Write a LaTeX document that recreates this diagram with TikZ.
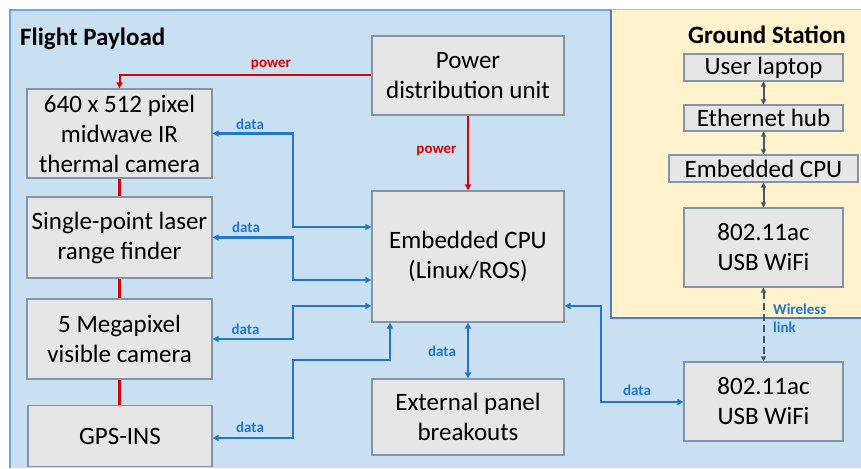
\documentclass[tikz,border=0pt]{standalone}
\usepackage{fontspec}
\setmainfont{Carlito}
\usetikzlibrary{arrows.meta}
\definecolor{bluebg}{HTML}{C9DFF2}
\definecolor{blueedge}{HTML}{6FA3E3}
\definecolor{yelbg}{HTML}{FFF2CC}
\definecolor{yeledge}{HTML}{4A7CCB}
\definecolor{boxfill}{HTML}{E6E6E6}
\definecolor{boxedge}{HTML}{8494A8}
\definecolor{datablue}{HTML}{1F77D0}
\definecolor{powred}{HTML}{E00000}
\definecolor{gsgray}{HTML}{44546A}
\tikzset{
  box/.style={draw=boxedge, line width=1.2pt, fill=boxfill, inner sep=0pt, align=center,
    font=\fontsize{25}{30}\selectfont},
  title/.style={font=\fontsize{25}{30}\selectfont\bfseries, inner sep=0pt},
  lbl/.style={font=\fontsize{15}{18}\selectfont\bfseries, inner sep=0pt},
  pw/.style={draw=powred, line width=2pt, -{Triangle[length=6pt,width=6pt]}},
  redlink/.style={draw=powred, line width=3pt},
  dt/.style={draw=datablue, line width=2.2pt, {Triangle[length=6pt,width=6pt]}-{Triangle[length=6pt,width=6pt]}},
  gs/.style={draw=gsgray, line width=2pt, {Triangle[length=5pt,width=5pt]}-{Triangle[length=5pt,width=5pt]}},
}
\begin{document}
\begin{tikzpicture}[x=1pt,y=-1pt]
\useasboundingbox (0,0) rectangle (861,468);
\fill[white] (0,0) rectangle (861,468);
% panels
\fill[bluebg] (10,10) rectangle (861,468);
\draw[blueedge, line width=1.5pt] (10,468) -- (10,10) -- (861,10);
\fill[yelbg] (611,10) rectangle (861,318);
\draw[black!25, line width=1pt] (611,10) -- (861,10);
\draw[yeledge, line width=1.5pt] (611,10) -- (611,318) -- (861,318);
\node[title, anchor=west] (fp) at (20,39) {Flight Payload};
\node[title] (gst) at (767,35) {Ground Station};
% flight boxes
\node[box, minimum width=185pt, minimum height=89pt] (th) at (119.5,133.5) {640 x 512 pixel\\midwave IR\\thermal camera};
\node[box, minimum width=185pt, minimum height=81pt] (lrf) at (119.5,237.5) {Single-point laser\\range finder};
\node[box, minimum width=185pt, minimum height=80pt] (mp) at (119.5,339) {5 Megapixel\\visible camera};
\node[box, minimum width=184pt, minimum height=61pt] (gps) at (120,436) {GPS-INS};
\node[box, minimum width=192pt, minimum height=79pt] (pdu) at (468,75.5) {Power\\distribution unit};
\node[box, minimum width=192pt, minimum height=131pt] (cpu) at (468,256.5) {Embedded CPU\\(Linux/ROS)};
\node[box, minimum width=192pt, minimum height=76pt] (ext) at (468,417) {External panel\\breakouts};
\node[box, minimum width=159pt, minimum height=79pt] (fwifi) at (763.5,401.5) {802.11ac\\USB WiFi};
% ground boxes
\node[box, minimum width=159pt, minimum height=27pt] (gl) at (763.5,67.5) {User laptop};
\node[box, minimum width=159pt, minimum height=26pt] (eh) at (763.5,118) {Ethernet hub};
\node[box, minimum width=189pt, minimum height=27pt] (gcpu) at (763.5,168.5) {Embedded CPU};
\node[box, minimum width=159pt, minimum height=79pt] (gwifi) at (763.5,247.5) {802.11ac\\USB WiFi};
% power
\draw[pw] (pdu.west) -| (th.north);
\draw[pw] (pdu.south) -- (cpu.north);
\draw[redlink] (th.south) -- (lrf.north);
\draw[redlink] (lrf.south) -- (mp.north);
\draw[redlink] (mp.south) -- (mp.south |- gps.north);
\node[lbl, text=powred] (pl1) at (271,65) {power};
\node[lbl, text=powred] (pl2) at (436.5,151) {power};
% data
\draw[dt] (th.east) -| (293,227) -- (cpu.west |- 0,227);
\draw[dt] (lrf.east) -| (293,280) -- (cpu.west |- 0,280);
\draw[dt] (mp.east) -| (293,306) -- (cpu.west |- 0,306);
\draw[dt] (gps.east |- 0,438) -| (293,360) -| (cpu.south -| 390,0);
\draw[dt] (cpu.south) -- (ext.north);
\draw[dt] (cpu.east |- 0,306) -| (601,402) -- (fwifi.west |- 0,402);
\node[lbl, text=datablue] (d1) at (250,124) {data};
\node[lbl, text=datablue] (d2) at (246,227) {data};
\node[lbl, text=datablue] (d3) at (245.5,329) {data};
\node[lbl, text=datablue] (d4) at (250,427) {data};
\node[lbl, text=datablue] (d5) at (442,351) {data};
\node[lbl, text=datablue] (d6) at (637,390) {data};
% ground stack
\draw[gs] (gl.south) -- (eh.north);
\draw[gs] (eh.south) -- (gcpu.north);
\draw[gs] (gcpu.south) -- (gwifi.north);
\draw[gs, dashed, dash pattern=on 7pt off 4pt] (gwifi.south) -- (fwifi.north);
\node[lbl, text=datablue, anchor=west, align=left] (wl) at (773,318) {Wireless\\link};
\end{tikzpicture}
\end{document}
